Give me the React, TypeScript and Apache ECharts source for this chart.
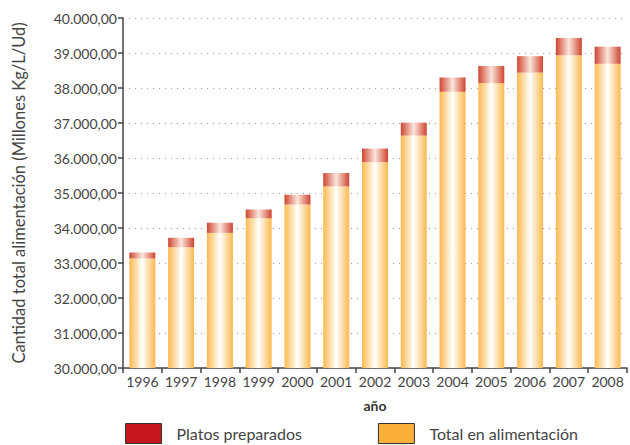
import React, { useEffect, useRef } from "react";
import * as echarts from "echarts";

const years = ["1996","1997","1998","1999","2000","2001","2002","2003","2004","2005","2006","2007","2008"];
const totalAlimentacion = [33130,33450,33860,34280,34670,35190,35880,36640,37890,38140,38440,38935,38690];
const platosPreparados = [170,270,290,250,280,380,390,370,410,490,470,495,490];
const yMin = 30000;
const yMax = 40000;
const yStep = 1000;

const fmt = (v: number) => {
  const s = Math.round(v).toString().replace(/\B(?=(\d{3})+(?!\d))/g, ".");
  return s + ",00";
};

const grad = (edge: string, mid: string) =>
  new echarts.graphic.LinearGradient(0, 0, 1, 0, [
    { offset: 0, color: edge },
    { offset: 0.5, color: mid },
    { offset: 1, color: edge },
  ]);

export default function App() {
  const ref = useRef<HTMLDivElement>(null);
  useEffect(() => {
    if (!ref.current) return;
    const chart = echarts.init(ref.current, null, { renderer: "svg" });
    const font = "Lato, 'Open Sans', sans-serif";
    chart.setOption({
      animation: false,
      textStyle: { fontFamily: font },
      legend: {
        top: 418,
        left: 120,
        itemWidth: 36,
        itemHeight: 20,
        itemGap: 76,
        icon: "rect",
        data: [
          { name: "Platos preparados", itemStyle: { color: "#c4161c", borderColor: "#333", borderWidth: 1 } },
          { name: "Total en alimentación", itemStyle: { color: "#fbb03b", borderColor: "#333", borderWidth: 1 } },
        ],
        textStyle: { fontSize: 16, color: "#444", fontFamily: font, padding: [0, 0, 0, 10] },
      },
      grid: { left: 123, right: 3, top: 18, bottom: 77 },
      xAxis: {
        type: "category",
        data: years,
        name: "año",
        nameLocation: "middle",
        nameGap: 30,
        nameTextStyle: { fontSize: 14, fontWeight: "bold", color: "#333" },
        axisLine: { lineStyle: { color: "#444", width: 1.5 } },
        axisTick: { show: true, length: 5, lineStyle: { color: "#444", width: 1.5 } },
        axisLabel: { fontSize: 14, color: "#444", margin: 6, interval: 0 },
      },
      yAxis: {
        type: "value",
        min: yMin,
        max: yMax,
        interval: yStep,
        name: "Cantidad total alimentación (Millones Kg/L/Ud)",
        nameLocation: "middle",
        nameGap: 96,
        nameTextStyle: { fontSize: 16.5, color: "#444" },
        axisLine: { show: true, lineStyle: { color: "#444", width: 1.5 } },
        axisTick: { show: true, length: 5, lineStyle: { color: "#444", width: 1.5 } },
        axisLabel: { fontSize: 14, color: "#444", margin: 6, formatter: (v: number) => fmt(v) },
        splitLine: { show: true, lineStyle: { color: "#999", type: [1, 5], width: 1.2 } },
      },
      series: [
        {
          name: "Total en alimentación",
          type: "bar",
          stack: "t",
          barCategoryGap: "33%",
          data: totalAlimentacion,
          itemStyle: { color: grad("#fdb94f", "#ffffff") },
        },
        {
          name: "Platos preparados",
          type: "bar",
          stack: "t",
          barCategoryGap: "33%",
          data: platosPreparados,
          itemStyle: { color: grad("#cf4530", "#fbe6dc") },
        },
      ],
    });
    return () => chart.dispose();
  }, []);
  return <div ref={ref} style={{ position: "absolute", left: 0, top: 0, width: 630, height: 445 }} />;
}
